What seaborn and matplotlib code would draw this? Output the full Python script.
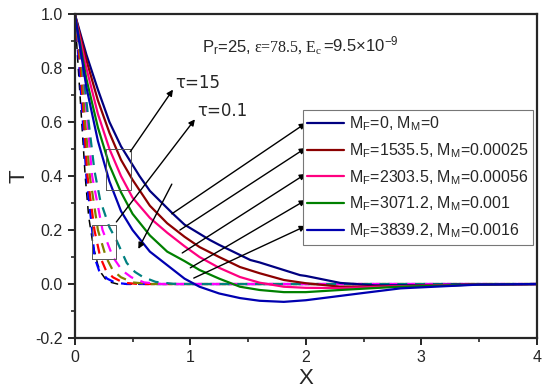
import numpy as np
import pandas as pd
import matplotlib
matplotlib.use("Agg")
import matplotlib.pyplot as plt
import seaborn as sns
from matplotlib.lines import Line2D

# 实线 (tau = 15) 的读数
solid_labels = [
    "M$_F$=0, M$_M$=0",
    "M$_F$=1535.5, M$_M$=0.00025",
    "M$_F$=2303.5, M$_M$=0.00056",
    "M$_F$=3071.2, M$_M$=0.001",
    "M$_F$=3839.2, M$_M$=0.0016",
]
solid_colors = ["#000080", "#8b0000", "#ff0080", "#008000", "#0000b0"]

x_mf0 = [0, 0.1, 0.2, 0.3, 0.4, 0.56, 0.65, 0.85, 0.95, 1.17, 1.25, 1.52, 1.6, 1.95, 2.0, 2.3, 2.6, 3.0, 3.5, 4.0]
t_mf0 = [1, 0.85, 0.72, 0.60, 0.51, 0.40, 0.345, 0.26, 0.22, 0.163, 0.145, 0.089, 0.08, 0.033, 0.03, 0.004, -0.005, -0.004, -0.001, 0]
x_mf1 = [0, 0.1, 0.2, 0.3, 0.4, 0.5, 0.65, 0.8, 0.95, 1.08, 1.25, 1.43, 1.6, 1.81, 2.0, 2.3, 2.8, 3.5, 4.0]
t_mf1 = [1, 0.83, 0.68, 0.56, 0.46, 0.386, 0.29, 0.225, 0.175, 0.137, 0.10, 0.063, 0.04, 0.015, 0.003, -0.01, -0.008, -0.002, 0]
x_mf2 = [0, 0.1, 0.2, 0.3, 0.4, 0.5, 0.65, 0.8, 0.95, 1.08, 1.25, 1.43, 1.6, 1.81, 2.0, 2.3, 2.8, 3.5, 4.0]
t_mf2 = [1, 0.80, 0.63, 0.50, 0.40, 0.32, 0.245, 0.19, 0.14, 0.10, 0.06, 0.026, 0.005, -0.01, -0.014, -0.015, -0.008, -0.002, 0]
x_mf3 = [0, 0.1, 0.2, 0.3, 0.4, 0.5, 0.65, 0.8, 0.95, 1.08, 1.25, 1.43, 1.6, 1.81, 2.0, 2.3, 2.8, 3.5, 4.0]
t_mf3 = [1, 0.76, 0.58, 0.44, 0.34, 0.26, 0.18, 0.12, 0.085, 0.052, 0.02, -0.01, -0.022, -0.03, -0.03, -0.022, -0.01, -0.002, 0]
x_mf4 = [0, 0.1, 0.2, 0.3, 0.4, 0.5, 0.65, 0.8, 0.95, 1.08, 1.25, 1.43, 1.6, 1.81, 2.0, 2.13, 2.5, 2.82, 3.5, 4.0]
t_mf4 = [1, 0.73, 0.53, 0.38, 0.27, 0.20, 0.12, 0.07, 0.02, -0.01, -0.035, -0.052, -0.062, -0.066, -0.06, -0.053, -0.033, -0.016, -0.002, 0]

# 虚线 (tau = 0.1) 的读数
dash_colors = ["#000000", "#0000ff", "#ff0000", "#808000", "#ff00ff", "#008080"]
xd_k = [0, 0.03, 0.06, 0.09, 0.12, 0.16, 0.20, 0.23, 0.28, 0.37, 4.0]
td_k = [1, 0.8, 0.6, 0.4, 0.25, 0.14, 0.07, 0.04, 0.01, 0, 0]
xd_b = [0, 0.04, 0.07, 0.10, 0.15, 0.17, 0.21, 0.28, 0.35, 0.45, 4.0]
td_b = [1, 0.8, 0.6, 0.4, 0.2, 0.1, 0.05, 0.02, 0.005, 0, 0]
xd_r = [0, 0.05, 0.08, 0.11, 0.17, 0.22, 0.27, 0.33, 0.42, 0.55, 4.0]
td_r = [1, 0.8, 0.6, 0.4, 0.2, 0.1, 0.05, 0.025, 0.005, 0, 0]
xd_o = [0, 0.06, 0.09, 0.13, 0.20, 0.27, 0.33, 0.40, 0.50, 0.65, 4.0]
td_o = [1, 0.8, 0.6, 0.4, 0.2, 0.1, 0.05, 0.025, 0.006, 0, 0]
xd_m = [0, 0.07, 0.11, 0.15, 0.24, 0.33, 0.41, 0.49, 0.60, 0.75, 4.0]
td_m = [1, 0.8, 0.6, 0.4, 0.2, 0.1, 0.05, 0.025, 0.006, 0, 0]
xd_t = [0, 0.07, 0.12, 0.17, 0.22, 0.30, 0.36, 0.45, 0.52, 0.59, 0.70, 0.85, 1.0, 4.0]
td_t = [1, 0.8, 0.6, 0.42, 0.31, 0.21, 0.163, 0.078, 0.045, 0.026, 0.008, 0.001, 0, 0]

solid_series = [(x_mf0, t_mf0), (x_mf1, t_mf1), (x_mf2, t_mf2), (x_mf3, t_mf3), (x_mf4, t_mf4)]
dash_series = [(xd_k, td_k), (xd_b, td_b), (xd_r, td_r), (xd_o, td_o), (xd_m, td_m), (xd_t, td_t)]

sns.set_style("ticks")
plt.rcParams["font.family"] = ["Liberation Sans", "DejaVu Sans"]
plt.rcParams["mathtext.fontset"] = "custom"
plt.rcParams["mathtext.rm"] = "Liberation Sans"
plt.rcParams["mathtext.it"] = "Liberation Sans"
plt.rcParams["mathtext.default"] = "regular"

fig = plt.figure(figsize=(5.5, 3.89), dpi=100)
ax = fig.add_axes([0.136, 0.131, 0.840, 0.833])

# 虚线
for (xs, ts), c in zip(dash_series, dash_colors):
    lw = 1.1 if c == "#000000" else 1.6
    sns.lineplot(x=xs, y=ts, ax=ax, color=c, lw=lw, sort=False, estimator=None)
    ax.lines[-1].set_dashes((4.5, 3.5) if c != "#000000" else (5, 4))

# 实线
for (xs, ts), c in zip(solid_series, solid_colors):
    sns.lineplot(x=xs, y=ts, ax=ax, color=c, lw=1.6, sort=False, estimator=None)

ax.set_xlim(0, 4)
ax.set_ylim(-0.2, 1.0)
ax.set_xticks([0, 1, 2, 3, 4])
ax.set_xticklabels(["0", "1", "2", "3", "4"])
ax.set_yticks([-0.2, 0.0, 0.2, 0.4, 0.6, 0.8, 1.0])
ax.set_yticklabels(["-0.2", "0.0", "0.2", "0.4", "0.6", "0.8", "1.0"])
ax.set_xticks(np.arange(0, 4.01, 0.5), minor=True)
ax.set_yticks(np.arange(-0.2, 1.01, 0.1), minor=True)
ax.tick_params(which="major", direction="out", length=5, width=1.4, labelsize=11.5)
ax.tick_params(which="minor", direction="out", length=3, width=1.2)
for s in ax.spines.values():
    s.set_linewidth(1.6)
    s.set_visible(True)
ax.set_xlabel("X", fontsize=16, labelpad=2)
ax.set_ylabel("T", fontsize=16, labelpad=4)

# 注释方框
for x0, x1, y0, y1 in [(0.27, 0.49, 0.35, 0.50), (0.15, 0.36, 0.093, 0.22)]:
    ax.plot([x0, x1, x1, x0, x0], [y0, y0, y1, y1, y0], color="#555555", lw=0.7)

arrow_kw = dict(arrowstyle="-|>", color="k", lw=1.0, mutation_scale=9, shrinkA=0, shrinkB=0)
ax.annotate("", xy=(0.85, 0.72), xytext=(0.48, 0.49), arrowprops=arrow_kw)
ax.annotate("", xy=(1.04, 0.61), xytext=(0.36, 0.23), arrowprops=arrow_kw)
ax.annotate("", xy=(0.55, 0.13), xytext=(0.84, 0.37), arrowprops=arrow_kw)

ax.text(0.87, 0.745, "τ=15", fontsize=12, va="center", family=["DejaVu Sans"])
ax.text(1.06, 0.64, "τ=0.1", fontsize=12, va="center", family=["DejaVu Sans"])
ax.text(1.10, 0.86, "P$_r$=25,", fontsize=12, va="baseline")
ax.text(1.55, 0.86, "ε=78.5, E$_c$", fontsize=11.5, va="baseline",
        family=["Liberation Serif", "DejaVu Serif"])
ax.text(2.15, 0.86, "=9.5×10$^{-9}$", fontsize=12, va="baseline")

# 图例箭头
starts = [(0.84, 0.26), (0.91, 0.20), (0.93, 0.115), (1.0, 0.06), (1.03, 0.022)]
ends = [(2.0, 0.596), (2.0, 0.504), (2.0, 0.408), (2.0, 0.311), (2.0, 0.215)]
for s0, e0 in zip(starts, ends):
    ax.annotate("", xy=e0, xytext=s0, arrowprops=arrow_kw)

handles = [Line2D([0], [0], color=c, lw=1.6) for c in solid_colors]
leg = ax.legend(handles, solid_labels, loc="upper left", bbox_to_anchor=(0.493, 0.704),
                fontsize=11.5, frameon=True, fancybox=False, framealpha=1,
                handlelength=2.3, handletextpad=0.3, labelspacing=0.5,
                borderpad=0.3, borderaxespad=0)
leg.get_frame().set_edgecolor("#777777")
leg.get_frame().set_linewidth(0.8)

fig.savefig("out.png", dpi=100)
